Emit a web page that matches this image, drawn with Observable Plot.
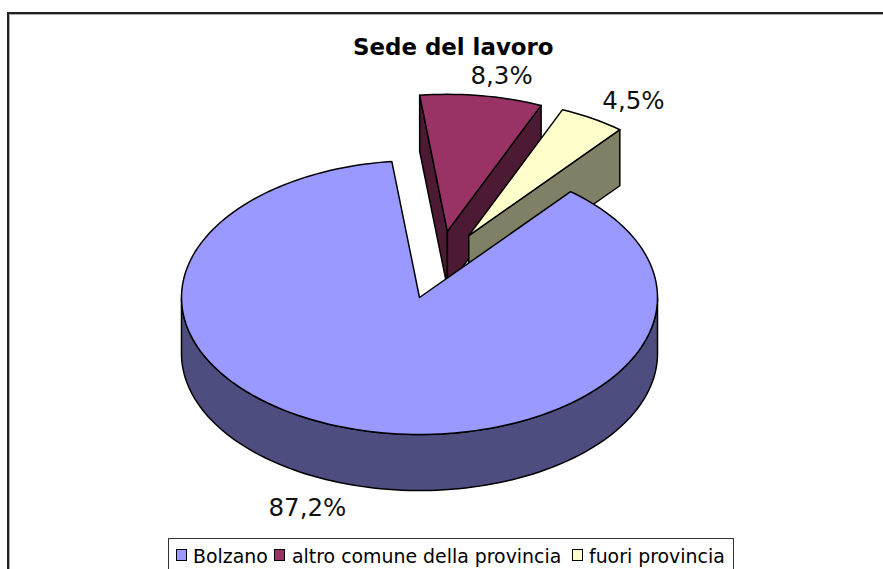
<!DOCTYPE html>
<html>
<head>
<meta charset="utf-8">
<script src="https://cdn.jsdelivr.net/npm/d3@7"></script>
<script src="https://cdn.jsdelivr.net/npm/@observablehq/plot@0.6"></script>
<style>
html,body{margin:0;padding:0;background:#fff;width:883px;height:569px;overflow:hidden;font-family:"DejaVu Sans",sans-serif;}
#frame{position:absolute;left:7px;top:12px;width:900px;height:600px;border-left:2px solid #222;border-top:2px solid #222;box-shadow:inset 1px 1px 0 #aaa;}
#title{position:relative;width:883px;height:60px;box-sizing:border-box;margin:0;font-size:22.9px;font-weight:bold;line-height:28px;color:#000;}
#title span{position:absolute;left:353px;top:33px;white-space:nowrap;}
#chart{position:relative;width:883px;height:478px;}
#chart svg{display:block;}
#legend{position:relative;margin-left:168px;box-sizing:border-box;width:566px;height:40px;border:1px solid #333;border-bottom:none;font-size:18.9px;color:#000;background:#fff;}
#legend .sw{position:absolute;top:10px;width:9px;height:10px;border:1.2px solid #000;}
#legend .tx{position:absolute;top:6px;line-height:22px;white-space:nowrap;}
</style>
</head>
<body>
<div id="frame"></div>
<div id="title"><span>Sede del lavoro</span></div>
<div id="chart"></div>
<div id="legend"></div>
<script>
const categories = ["Bolzano", "altro comune della provincia", "fuori provincia"];
const shares = [87.2, 8.3, 4.5];
const faceColors = ["#9999FF", "#993366", "#FFFFCC"];
const wallColors = ["#4D4D80", "#4D1A33", "#808066"];

// Layout, in units of the pie's radii
const depth = 0.409;
const explode = [[0, 0], [0.117, 0.483], [0.207, 0.452]];
const labelAt = [[-0.471, -1.54], [0.345, 1.613], [0.899, 1.431]];
const firstAngle = 39.4 * Math.PI / 180;

const arcs = d3.pie().sort(null).startAngle(firstAngle).endAngle(firstAngle + 2 * Math.PI)(shares);

const rows = [];
function poly(id, color, pts) {
  pts.concat([pts[0]]).forEach(([x, y]) => rows.push({id, color, x, y}));
}
function rim(a0, a1, [ox, oy]) {
  const n = Math.max(2, Math.ceil(Math.abs(a1 - a0) / 0.03));
  return d3.range(n + 1).map(i => {
    const a = a0 + (a1 - a0) * i / n;
    return [ox + Math.sin(a), oy + Math.cos(a)];
  });
}
function wall(a, [ox, oy]) {
  const p = [ox + Math.sin(a), oy + Math.cos(a)];
  return [[ox, oy], p, [p[0], p[1] - depth], [ox, oy - depth]];
}

// Far slices first, so that the large slice covers them
const [a0, a1, a2] = arcs;
poly("w1a", wallColors[1], wall(a1.startAngle, explode[1]));
poly("w1b", wallColors[1], wall(a1.endAngle, explode[1]));
poly("f1", faceColors[1], [explode[1], ...rim(a1.startAngle, a1.endAngle, explode[1])]);
poly("w2b", wallColors[2], wall(a2.endAngle, explode[2]));
poly("f2", faceColors[2], [explode[2], ...rim(a2.startAngle, a2.endAngle, explode[2])]);
const front = rim(Math.PI / 2, 3 * Math.PI / 2, explode[0]);
poly("w0", wallColors[0], [...front, ...front.slice().reverse().map(([x, y]) => [x, y - depth])]);
poly("f0", faceColors[0], [explode[0], ...rim(a0.startAngle, a0.endAngle, explode[0])]);

const labels = shares.map((v, i) => ({
  text: v.toFixed(1).replace(".", ",") + "%",
  x: labelAt[i][0],
  y: labelAt[i][1]
}));

const plot = Plot.plot({
  width: 883,
  height: 478,
  margin: 0,
  style: {background: "transparent"},
  x: {domain: [-1, 1], range: [181, 657], axis: null},
  y: {domain: [-1, 1], range: [374, 100], axis: null},
  marks: [
    Plot.line(rows, {x: "x", y: "y", z: "id", fill: "color", stroke: "#000", strokeWidth: 1.5, strokeLinejoin: "round"}),
    Plot.text(labels, {x: "x", y: "y", text: "text", fontSize: 24.5, fill: "#111", fontFamily: "DejaVu Sans"})
  ]
});
document.getElementById("chart").appendChild(plot);

// Legend below the chart
const legend = document.getElementById("legend");
const swatchX = [7, 105, 403];
const textX = [24, 123, 420];
categories.forEach((c, i) => {
  const s = document.createElement("div");
  s.className = "sw";
  s.style.left = swatchX[i] + "px";
  s.style.background = faceColors[i];
  legend.appendChild(s);
  const t = document.createElement("div");
  t.className = "tx";
  t.style.left = textX[i] + "px";
  t.textContent = c;
  legend.appendChild(t);
});
</script>
</body>
</html>
